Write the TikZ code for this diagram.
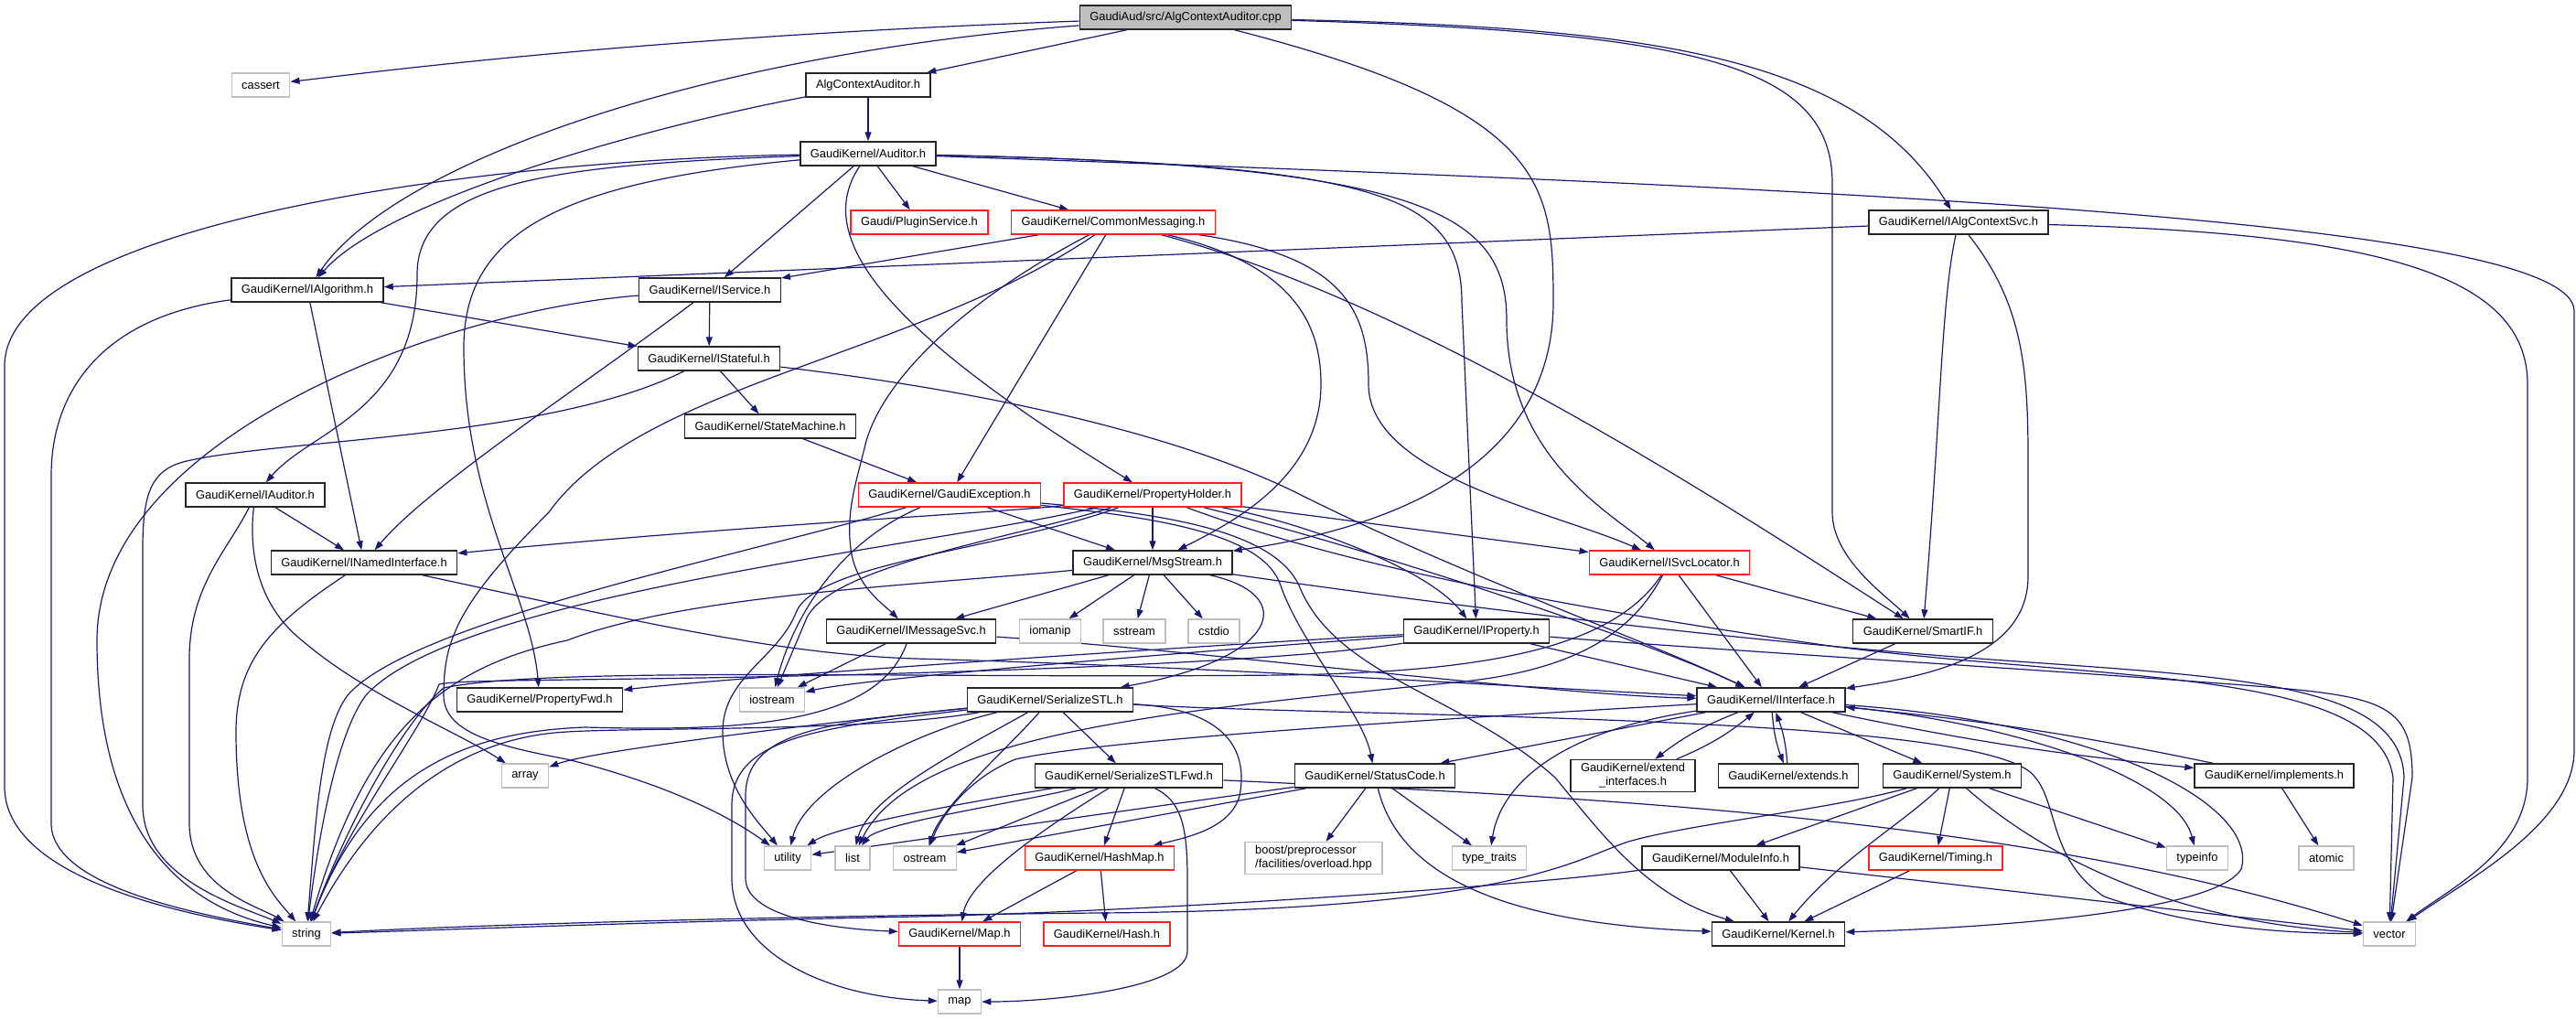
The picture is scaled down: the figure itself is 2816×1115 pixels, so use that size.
\documentclass[tikz,border=0pt]{standalone}
\usepackage{fontspec}
\setmainfont{Liberation Sans}
\usetikzlibrary{arrows.meta}
\definecolor{inclblue}{HTML}{191970}
\definecolor{boxred}{HTML}{FF2020}
\definecolor{sysgray}{HTML}{BFBFBF}
\pgfdeclarelayer{edges}
\pgfsetlayers{edges,main}
\tikzset{
  hdr/.style={draw=black!85, line width=1.4pt, fill=white, font=\fontsize{12.9}{15}\selectfont, inner xsep=11pt, inner ysep=4pt, minimum height=26pt},
  hdrred/.style={hdr, draw=boxred},
  sys/.style={hdr, draw=sysgray},
  root/.style={hdr, fill=sysgray},
  incl/.style={draw=inclblue, line width=1.2pt, -{Triangle[length=10pt,width=7pt]}}
}

\begin{document}
\begin{tikzpicture}[x=1pt, y=-1pt]
		%%%%% START %%%%%
		\useasboundingbox (0,0) rectangle (2816,1115);

		\node[root] (cpp) at (1296,19) {GaudiAud/src/AlgContextAuditor.cpp};
		\node[sys] (cassert) at (285,93) {cassert};
		\node[hdr] (aca) at (949,93) {AlgContextAuditor.h};
		\node[hdr] (auditor) at (949,168) {GaudiKernel/Auditor.h};
		\node[hdrred] (plugin) at (1005,243) {Gaudi/PluginService.h};
		\node[hdrred] (commsg) at (1217,243) {GaudiKernel/CommonMessaging.h};
		\node[hdr] (ialgctx) at (2141,243) {GaudiKernel/IAlgContextSvc.h};
		\node[hdr] (ialg) at (336,317) {GaudiKernel/IAlgorithm.h};
		\node[hdr] (isvc) at (776,317) {GaudiKernel/IService.h};
		\node[hdr] (istateful) at (775,392) {GaudiKernel/IStateful.h};
		\node[hdr] (statem) at (842,466) {GaudiKernel/StateMachine.h};
		\node[hdr] (iauditor) at (279,541) {GaudiKernel/IAuditor.h};
		\node[hdr] (inamed) at (398,615) {GaudiKernel/INamedInterface.h};
		\node[hdrred] (gexc) at (1038,541) {GaudiKernel/GaudiException.h};
		\node[hdrred] (prophold) at (1260,541) {GaudiKernel/PropertyHolder.h};
		\node[hdr] (msgstream) at (1260,615) {GaudiKernel/MsgStream.h};
		\node[hdrred] (isvcloc) at (1825,615) {GaudiKernel/ISvcLocator.h};
		\node[hdr] (smartif) at (2102,690) {GaudiKernel/SmartIF.h};
		\node[hdr] (imsgsvc) at (996,690) {GaudiKernel/IMessageSvc.h};
		\node[sys] (iomanip) at (1148,690) {iomanip};
		\node[sys] (sstream) at (1240,690) {sstream};
		\node[sys] (cstdio) at (1327,690) {cstdio};
		\node[hdr] (iprop) at (1614,690) {GaudiKernel/IProperty.h};
		\node[hdr] (propfwd) at (590,765) {GaudiKernel/PropertyFwd.h};
		\node[sys] (iostream) at (844,765) {iostream};
		\node[hdr] (sstl) at (1148,765) {GaudiKernel/SerializeSTL.h};
		\node[hdr] (iinterface) at (1936,765) {GaudiKernel/IInterface.h};
		\node[sys] (array) at (574,848) {array};
		\node[hdr] (sstlfwd) at (1234,848) {GaudiKernel/SerializeSTLFwd.h};
		\node[hdr] (statuscode) at (1503,848) {GaudiKernel/StatusCode.h};
		\node[hdr, align=center] (extif) at (1785,848) {GaudiKernel/extend\\\_interfaces.h};
		\node[hdr] (extends) at (1955,848) {GaudiKernel/extends.h};
		\node[hdr] (system) at (2134,848) {GaudiKernel/System.h};
		\node[hdr] (implements) at (2486,848) {GaudiKernel/implements.h};
		\node[sys] (utility) at (861,938) {utility};
		\node[sys] (list) at (932,938) {list};
		\node[sys] (ostream) at (1011,938) {ostream};
		\node[hdrred] (hashmap) at (1202,938) {GaudiKernel/HashMap.h};
		\node[sys, align=left] (boostpp) at (1436,938) {boost/preprocessor\\/facilities/overload.hpp};
		\node[sys] (typetraits) at (1628,938) {type\_traits};
		\node[hdr] (moduleinfo) at (1881,938) {GaudiKernel/ModuleInfo.h};
		\node[hdrred] (timing) at (2116,938) {GaudiKernel/Timing.h};
		\node[sys] (typeinfo) at (2402,938) {typeinfo};
		\node[sys] (atomic) at (2543,938) {atomic};
		\node[sys] (string) at (335,1021) {string};
		\node[hdrred] (mapH) at (1049,1021) {GaudiKernel/Map.h};
		\node[hdrred] (hash) at (1210,1021) {GaudiKernel/Hash.h};
		\node[hdr] (kernel) at (1944,1021) {GaudiKernel/Kernel.h};
		\node[sys] (vector) at (2612,1021) {vector};
		\node[sys] (map) at (1049,1095) {map};

		\begin{pgfonlayer}{edges}
		% the .cpp file
		\draw[incl] (cpp) .. controls (700,40) and (400,80) .. (cassert);
		\draw[incl] (cpp) -- (aca);
		\draw[incl] (cpp) .. controls (760,60) and (430,180) .. (ialg);
		\draw[incl] (cpp) .. controls (1690,120) and (1698,200) .. (1698,330) .. controls (1698,520) and (1500,580) .. (msgstream);
		\draw[incl] (cpp) .. controls (1850,35) and (2003,70) .. (2003,200) -- (2003,560) .. controls (2003,610) and (2060,650) .. (smartif);
		\draw[incl] (cpp) .. controls (1800,30) and (2030,60) .. (ialgctx);

		\draw[incl] (aca) -- (auditor);
		\draw[incl] (aca) .. controls (700,140) and (420,220) .. (ialg);

		% Auditor.h
		\draw[incl] (auditor) .. controls (500,175) and (5,250) .. (5,400) -- (5,860) .. controls (5,960) and (200,1000) .. (string);
		\draw[incl] (auditor) .. controls (600,180) and (456,200) .. (456,300) .. controls (456,450) and (340,470) .. (iauditor);
		\draw[incl] (auditor) .. controls (600,200) and (507,260) .. (507,380) .. controls (507,550) and (580,650) .. (propfwd);
		\draw[incl] (auditor) -- (isvc);
		\draw[incl] (auditor) -- (plugin);
		\draw[incl] (auditor) -- (commsg);
		\draw[incl] (auditor) .. controls (880,270) and (1000,380) .. (prophold);
		\draw[incl] (auditor) .. controls (1500,180) and (1598,210) .. (1598,330) -- (iprop);
		\draw[incl] (auditor) .. controls (1550,180) and (1647,230) .. (1647,350) .. controls (1647,500) and (1760,560) .. (isvcloc);
		\draw[incl] (auditor) .. controls (2000,205) and (2814,240) .. (2814,340) -- (2814,820) .. controls (2814,900) and (2700,960) .. (vector);

		% CommonMessaging.h
		\draw[incl] (commsg) -- (isvc);
		\draw[incl] (commsg) .. controls (1050,330) and (960,420) .. (945,490) .. controls (935,530) and (925,560) .. (930,600) .. controls (935,640) and (965,660) .. (imsgsvc);
		\draw[incl] (commsg) .. controls (1000,390) and (700,420) .. (600,560) .. controls (500,660) and (485,700) .. (485,760) .. controls (485,800) and (540,815) .. (620,830) .. controls (700,850) and (780,880) .. (utility);
		\draw[incl] (commsg) -- (gexc);
		\draw[incl] (commsg) .. controls (1420,290) and (1444,360) .. (1444,420) .. controls (1444,520) and (1350,570) .. (msgstream);
		\draw[incl] (commsg) .. controls (1470,280) and (1496,340) .. (1496,420) .. controls (1496,520) and (1700,560) .. (isvcloc);
		\draw[incl] (commsg) .. controls (1550,330) and (1900,560) .. (smartif);

		% IAlgContextSvc.h
		\draw[incl] (ialgctx) -- (ialg);
		\draw[incl] (ialgctx) .. controls (2122,330) and (2122,450) .. (smartif);
		\draw[incl] (ialgctx) .. controls (2210,330) and (2217,400) .. (2217,500) -- (2217,630) .. controls (2217,720) and (2100,740) .. (iinterface);
		\draw[incl] (ialgctx) .. controls (2600,255) and (2763,300) .. (2763,420) -- (2763,850) .. controls (2763,930) and (2680,970) .. (vector);

		% IAlgorithm.h, IService.h, IStateful.h
		\draw[incl] (ialg) .. controls (120,345) and (56,420) .. (56,520) -- (56,900) .. controls (56,970) and (220,1000) .. (string);
		\draw[incl] (ialg) -- (inamed);
		\draw[incl] (ialg) -- (istateful);
		\draw[incl] (isvc) -- (istateful);
		\draw[incl] (isvc) .. controls (640,420) and (470,530) .. (inamed);
		\draw[incl] (isvc) .. controls (480,340) and (106,480) .. (106,700) .. controls (106,960) and (250,1000) .. (string);
		\draw[incl] (istateful) .. controls (600,480) and (300,480) .. (200,505) .. controls (165,515) and (156,540) .. (156,600) -- (156,880) .. controls (156,960) and (260,990) .. (string);
		\draw[incl] (istateful) -- (statem);
		\draw[incl] (istateful) .. controls (1100,430) and (1300,480) .. (1420,540) .. controls (1600,630) and (1800,700) .. (iinterface);
		\draw[incl] (statem) -- (gexc);

		% IAuditor.h, INamedInterface.h
		\draw[incl] (iauditor) -- (inamed);
		\draw[incl] (iauditor) .. controls (250,600) and (207,640) .. (207,720) -- (207,900) .. controls (207,970) and (280,990) .. (string);
		\draw[incl] (iauditor) .. controls (272,600) and (280,660) .. (330,700) .. controls (400,760) and (500,800) .. (array);
		\draw[incl] (inamed) .. controls (300,680) and (258,720) .. (258,800) .. controls (258,940) and (300,980) .. (string);
		\draw[incl] (inamed) .. controls (700,680) and (850,715) .. (1000,720) .. controls (1300,728) and (1650,750) .. (iinterface);

		% GaudiException.h
		\draw[incl] (gexc) -- (msgstream);
		\draw[incl] (gexc) .. controls (1250,565) and (1380,580) .. (1400,640) .. controls (1420,700) and (1490,780) .. (statuscode);
		\draw[incl] (gexc) .. controls (1250,560) and (1390,575) .. (1420,640) .. controls (1460,740) and (1600,760) .. (1700,850) .. controls (1750,910) and (1800,980) .. (kernel);
		\draw[incl] (gexc) .. controls (900,600) and (860,700) .. (iostream);
		\draw[incl] (gexc) .. controls (800,610) and (450,680) .. (380,760) .. controls (350,800) and (345,900) .. (string);

		% PropertyHolder.h
		\draw[incl] (prophold) .. controls (1100,560) and (800,575) .. (inamed);
		\draw[incl] (prophold) .. controls (1000,600) and (500,650) .. (400,760) .. controls (370,800) and (350,900) .. (string);
		\draw[incl] (prophold) .. controls (1100,590) and (900,620) .. (880,680) -- (iostream);
		\draw[incl] (prophold) .. controls (1100,600) and (890,615) .. (870,670) .. controls (850,720) and (790,740) .. (790,800) .. controls (790,860) and (830,900) .. (utility);
		\draw[incl] (prophold) -- (msgstream);
		\draw[incl] (prophold) -- (isvcloc);
		\draw[incl] (prophold) .. controls (1420,570) and (1560,620) .. (iprop);
		\draw[incl] (prophold) .. controls (1500,600) and (1800,700) .. (iinterface);
		\draw[incl] (prophold) .. controls (1420,600) and (1600,648) .. (2000,706) .. controls (2300,745) and (2600,730) .. (2616,850) -- (vector);

		% MsgStream.h
		\draw[incl] (msgstream) -- (imsgsvc);
		\draw[incl] (msgstream) -- (iomanip);
		\draw[incl] (msgstream) -- (sstream);
		\draw[incl] (msgstream) -- (cstdio);
		\draw[incl] (msgstream) .. controls (1420,650) and (1400,720) .. (sstl);
		\draw[incl] (msgstream) .. controls (1000,640) and (750,650) .. (620,700) .. controls (480,730) and (400,800) .. (string);
		\draw[incl] (msgstream) .. controls (1500,650) and (1800,690) .. (2100,715) .. controls (2400,740) and (2625,735) .. (2628,850) -- (vector);

		% ISvcLocator.h, IProperty.h, IMessageSvc.h, SmartIF.h
		\draw[incl] (isvcloc) -- (iinterface);
		\draw[incl] (isvcloc) -- (smartif);
		\draw[incl] (isvcloc) .. controls (1790,680) and (1740,730) .. (1600,745) .. controls (1300,775) and (1000,800) .. (list);
		\draw[incl] (isvcloc) .. controls (1760,715) and (1600,735) .. (1400,738) .. controls (1000,742) and (600,728) .. (485,752) .. controls (440,790) and (380,900) .. (string);
		\draw[incl] (iprop) .. controls (1400,700) and (800,740) .. (propfwd);
		\draw[incl] (iprop) .. controls (1400,705) and (950,740) .. (iostream);
		\draw[incl] (iprop) .. controls (1400,725) and (1000,738) .. (700,742) .. controls (560,744) and (500,744) .. (480,748) .. controls (460,800) and (380,900) .. (string);
		\draw[incl] (iprop) -- (iinterface);
		\draw[incl] (iprop) .. controls (1900,712) and (2200,730) .. (2400,745) .. controls (2600,760) and (2637,760) .. (2637,850) -- (vector);
		\draw[incl] (imsgsvc) .. controls (1300,710) and (1700,760) .. (iinterface);
		\draw[incl] (imsgsvc) -- (iostream);
		\draw[incl] (imsgsvc) .. controls (960,790) and (820,800) .. (640,795) .. controls (500,800) and (400,850) .. (string);
		\draw[incl] (smartif) -- (iinterface);

		% SerializeSTL.h, SerializeSTLFwd.h
		\draw[incl] (sstl) -- (sstlfwd);
		\draw[incl] (sstl) .. controls (1340,775) and (1365,820) .. (1355,870) .. controls (1345,905) and (1300,915) .. (hashmap);
		\draw[incl] (sstl) .. controls (900,790) and (815,800) .. (815,870) -- (815,960) .. controls (815,1000) and (900,1015) .. (mapH);
		\draw[incl] (sstl) .. controls (900,795) and (800,805) .. (800,880) -- (800,960) .. controls (800,1040) and (900,1090) .. (map);
		\draw[incl] (sstl) .. controls (1000,800) and (880,860) .. (utility);
		\draw[incl] (sstl) .. controls (1050,820) and (950,870) .. (list);
		\draw[incl] (sstl) .. controls (1100,820) and (1030,880) .. (ostream);
		\draw[incl] (sstl) .. controls (900,790) and (650,820) .. (array);
		\draw[incl] (sstl) .. controls (950,800) and (700,795) .. (620,800) .. controls (520,805) and (420,860) .. (string);
		\draw[incl] (sstl) .. controls (1500,785) and (2180,780) .. (2225,850) .. controls (2250,880) and (2240,940) .. (2300,980) .. controls (2400,1015) and (2500,1020) .. (vector);
		\draw[incl] (sstlfwd) .. controls (1100,870) and (920,900) .. (utility);
		\draw[incl] (sstlfwd) .. controls (1100,880) and (960,900) .. (list);
		\draw[incl] (sstlfwd) -- (ostream);
		\draw[incl] (sstlfwd) -- (hashmap);
		\draw[incl] (sstlfwd) .. controls (1150,900) and (1060,960) .. (mapH);
		\draw[incl] (sstlfwd) .. controls (1290,875) and (1298,900) .. (1298,960) -- (1298,1040) .. controls (1298,1080) and (1150,1095) .. (map);
		\draw[incl] (sstlfwd) .. controls (1700,870) and (2200,890) .. (vector);

		% StatusCode.h
		\draw[incl] (statuscode) -- (ostream);
		\draw[incl] (statuscode) -- (utility);
		\draw[incl] (statuscode) -- (boostpp);
		\draw[incl] (statuscode) -- (typetraits);
		\draw[incl] (statuscode) .. controls (1530,960) and (1650,1010) .. (kernel);

		% IInterface.h
		\draw[incl] (iinterface) -- (statuscode);
		\draw[incl] (iinterface) .. controls (1700,800) and (1640,860) .. (typetraits);
		\draw[incl] (iinterface) to[bend right=8] (extif);
		\draw[incl] (extif) to[bend right=8] (iinterface);
		\draw[incl] (iinterface) to[bend right=8] (extends);
		\draw[incl] (extends) to[bend right=8] (iinterface);
		\draw[incl] (iinterface) to[bend right=3] (implements);
		\draw[incl] (implements) to[bend right=3] (iinterface);
		\draw[incl] (iinterface) -- (system);
		\draw[incl] (iinterface) .. controls (2200,790) and (2380,850) .. (typeinfo);
		\draw[incl] (iinterface) .. controls (2300,790) and (2470,880) .. (2450,950) .. controls (2420,1000) and (2150,1015) .. (kernel);
		\draw[incl] (iinterface) .. controls (1500,790) and (1200,810) .. (1110,830) .. controls (1060,850) and (1030,890) .. (ostream);

		% System.h and below
		\draw[incl] (system) -- (moduleinfo);
		\draw[incl] (system) -- (timing);
		\draw[incl] (system) .. controls (2080,900) and (2010,940) .. (kernel);
		\draw[incl] (system) -- (typeinfo);
		\draw[incl] (system) .. controls (2250,950) and (2400,1010) .. (vector);
		\draw[incl] (system) .. controls (2000,885) and (1850,900) .. (1780,920) .. controls (1720,940) and (1650,995) .. (1200,998) .. controls (800,1002) and (500,1012) .. (string);
		\draw[incl] (moduleinfo) .. controls (1700,965) and (1300,995) .. (1000,1002) .. controls (700,1008) and (500,1016) .. (string);
		\draw[incl] (moduleinfo) -- (kernel);
		\draw[incl] (moduleinfo) -- (vector);
		\draw[incl] (timing) -- (kernel);
		\draw[incl] (implements) -- (atomic);
		\draw[incl] (hashmap) -- (mapH);
		\draw[incl] (hashmap) -- (hash);
		\draw[incl] (mapH) -- (map);
		\end{pgfonlayer}
		%%%%% END %%%%%
\end{tikzpicture}
\end{document}
